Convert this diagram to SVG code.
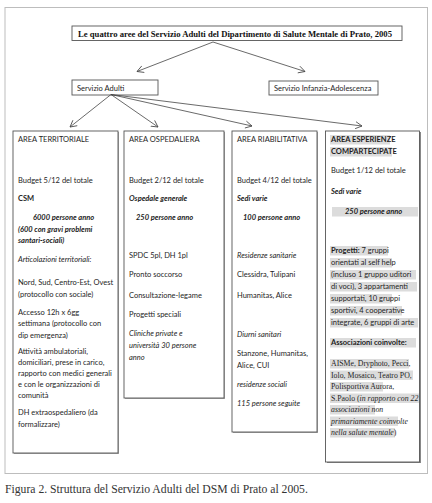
<svg xmlns="http://www.w3.org/2000/svg" width="432" height="503" viewBox="0 0 432 503">
<defs>
<marker id="ah" markerUnits="userSpaceOnUse" markerWidth="9" markerHeight="9" refX="7" refY="4.5" orient="auto">
<path d="M0.5,1 L7,4.5 L0.5,8" fill="none" stroke="#444" stroke-width="0.8"/>
</marker>
<style>
.frame{fill:none;stroke:#bdbdbd;stroke-width:1}
.box{fill:#fff;stroke:#555;stroke-width:0.9}
.sh{fill:#a8a8a8}
.t{font-family:Lato,"Liberation Sans",Arial,sans-serif;font-size:7.5px;fill:#1e1e1e}
.b{font-weight:bold}
.i{font-style:italic}
.s{font-family:"Liberation Serif","Times New Roman",serif;font-size:7.8px;fill:#1e1e1e}
.hl{fill:#dcdcdc}
.conn line{stroke:#444;stroke-width:0.8;fill:none;marker-end:url(#ah)}
</style>
</defs>
<rect x="0" y="0" width="432" height="503" fill="#fff"/>
<rect class="frame" x="5" y="7.5" width="422.5" height="466"/>

<g id="title">
<rect class="box" x="72" y="26" width="330" height="14.5"/>
<text x="78" y="36.8" font-family="Liberation Serif,'Times New Roman',serif" font-weight="bold" font-size="9" fill="#111" textLength="314" lengthAdjust="spacingAndGlyphs">Le quattro aree del Servizio Adulti  del Dipartimento di Salute Mentale di Prato, 2005</text>
</g>

<g id="adulti">
<rect class="box" x="72" y="80" width="86" height="15"/>
<text class="t" x="77" y="90.5" font-size="7.6">Servizio Adulti</text>
</g>

<g id="infanzia">
<rect class="box" x="269" y="81" width="109" height="14"/>
<text class="t" x="274" y="90.5" font-size="7.6">Servizio Infanzia-Adolescenza</text>
</g>

<g class="conn" id="connectors">
<line x1="213" y1="42" x2="137" y2="71.5"/>
<line x1="213" y1="42" x2="305" y2="71.5"/>
<line x1="111" y1="94.5" x2="70" y2="127"/>
<line x1="111" y1="94.5" x2="158" y2="127"/>
<line x1="111" y1="94.5" x2="252" y2="126"/>
<line x1="111" y1="94.5" x2="362" y2="126"/>
</g>

<g id="area-territoriale">
<rect class="sh" x="14" y="132" width="105" height="322"/>
<rect class="box" x="13" y="131" width="105" height="322"/>
<text class="t" x="18" y="142">AREA TERRITORIALE</text>
<text class="t" x="18" y="183">Budget 5/12 del totale</text>
<text class="t b" x="18" y="201">CSM</text>
<text class="t b i" x="33" y="220">6000 persone anno</text>
<text class="t b i" x="18" y="231.5">(600 con gravi problemi</text>
<text class="t b i" x="18" y="243">santari-sociali)</text>
<text class="t i" x="18" y="262">Articolazioni territoriali:</text>
<text class="t" x="18" y="285">Nord, Sud, Centro-Est, Ovest</text>
<text class="t" x="18" y="296.5">(protocollo con sociale)</text>
<text class="t" x="18" y="314.5">Accesso 12h x  6gg</text>
<text class="t" x="18" y="326">settimana (protocollo con</text>
<text class="t" x="18" y="337.5">dip emergenza)</text>
<text class="t" x="18" y="354">Attività ambulatoriali,</text>
<text class="t" x="18" y="365">domiciliari, prese in carico,</text>
<text class="t" x="18" y="376">rapporto con medici generali</text>
<text class="t" x="18" y="387">e con le organizzazioni di</text>
<text class="t" x="18" y="398">comunità</text>
<text class="t" x="18" y="415">DH extraospedaliero (da</text>
<text class="t" x="18" y="426.5">formalizzare)</text>
</g>

<g id="area-ospedaliera">
<rect class="sh" x="125" y="132" width="100" height="267"/>
<rect class="box" x="124" y="131" width="100" height="267"/>
<text class="t" x="129" y="142">AREA OSPEDALIERA</text>
<text class="t" x="129" y="183">Budget 2/12 del totale</text>
<text class="t b i" x="129" y="201">Ospedale generale</text>
<text class="t b i" x="136" y="220">250 persone anno</text>
<text class="t" x="129" y="258">SPDC  5pl,    DH  1pl</text>
<text class="t" x="129" y="277">Pronto soccorso</text>
<text class="t" x="129" y="298">Consultazione-legame</text>
<text class="t" x="129" y="317">Progetti speciali</text>
<text class="t i" x="129" y="336">Cliniche private e</text>
<text class="t i" x="129" y="348">università 30 persone</text>
<text class="t i" x="129" y="360">anno</text>
</g>

<g id="area-riabilitativa">
<rect class="sh" x="233" y="132" width="85" height="301"/>
<rect class="box" x="232" y="131" width="85" height="301"/>
<text class="t" x="237" y="142">AREA RIABILITATIVA</text>
<text class="t" x="237" y="183">Budget 4/12 del totale</text>
<text class="t b i" x="237" y="201">Sedi  varie</text>
<text class="t b i" x="243" y="220">100 persone anno</text>
<text class="t i" x="237" y="258">Residenze sanitarie</text>
<text class="t" x="237" y="277">Clessidra, Tulipani</text>
<text class="t" x="237" y="298">Humanitas,  Alice</text>
<text class="t i" x="237" y="337">Diurni   sanitari</text>
<text class="t" x="237" y="356">Stanzone, Humanitas,</text>
<text class="t" x="237" y="367.5">Alice, CUI</text>
<text class="t i" x="237" y="387">residenze sociali</text>
<text class="t i" x="237" y="406">115 persone seguite</text>
</g>

<g id="area-esperienze">
<rect x="327" y="132" width="94" height="331" fill="#888"/>
<rect class="box" x="325.5" y="131" width="94" height="331"/>
<rect class="hl" x="330" y="135" width="60" height="9.5"/>
<rect class="hl" x="330" y="147" width="62" height="9.5"/>
<rect class="hl" x="332" y="207" width="86" height="9.5"/>
<rect class="hl" x="330" y="246" width="58" height="9.5"/>
<rect class="hl" x="330" y="258" width="62" height="9.5"/>
<rect class="hl" x="330" y="270" width="86" height="9.5"/>
<rect class="hl" x="330" y="282" width="87" height="9.5"/>
<rect class="hl" x="330" y="294" width="62" height="9.5"/>
<rect class="hl" x="330" y="306" width="72" height="9.5"/>
<rect class="hl" x="330" y="318" width="88" height="9.5"/>
<rect class="hl" x="330" y="338" width="86" height="9.5"/>
<rect class="hl" x="330" y="359" width="79" height="9.5"/>
<rect class="hl" x="330" y="370.5" width="83" height="9.5"/>
<rect class="hl" x="330" y="382" width="53" height="9.5"/>
<rect class="hl" x="330" y="393.5" width="89" height="9.5"/>
<rect class="hl" x="330" y="405" width="45" height="9.5"/>
<rect class="hl" x="330" y="416.5" width="68" height="9.5"/>
<rect class="hl" x="330" y="428" width="65" height="9.5"/>
<text class="t b" x="331" y="142">AREA ESPERIENZE</text>
<text class="t b" x="331" y="154">COMPARTECIPATE</text>
<text class="t" x="331" y="173">Budget 1/12 del totale</text>
<text class="t b i" x="331" y="194">Sedi  varie</text>
<text class="t b i" x="345" y="214">250 persone anno</text>
<text class="t" x="331" y="253"><tspan class="b">Progetti:</tspan> 7 gruppi</text>
<text class="t" x="331" y="265">orientati al self help</text>
<text class="t" x="331" y="277">(incluso 1 gruppo uditori</text>
<text class="t" x="331" y="289">di voci), 3 appartamenti</text>
<text class="t" x="331" y="301">supportati, 10 gruppi</text>
<text class="t" x="331" y="313">sportivi, 4 cooperative</text>
<text class="t" x="331" y="325">integrate, 6 gruppi di arte</text>
<text class="t b" x="331" y="345">Associazioni coinvolte:</text>
<text class="s" x="331" y="366">AISMe, Dryphoto, Pecci,</text>
<text class="s" x="331" y="377.5">Iolo, Mosaico, Teatro PO,</text>
<text class="s" x="331" y="389">Polisportiva Aurora,</text>
<text class="s" x="331" y="400.5">S.Paolo (<tspan font-style="italic">in rapporto con 22</tspan></text>
<text class="s i" x="331" y="412">associazioni non</text>
<text class="s i" x="331" y="423.5">primariamente coinvolte</text>
<text class="s i" x="331" y="435">nella salute mentale<tspan font-style="normal">)</tspan></text>
</g>

<text x="5" y="493" font-family="Liberation Serif,'Times New Roman',serif" font-size="11.7" fill="#333">Figura 2. Struttura del Servizio Adulti del DSM di Prato al 2005.</text>
</svg>
